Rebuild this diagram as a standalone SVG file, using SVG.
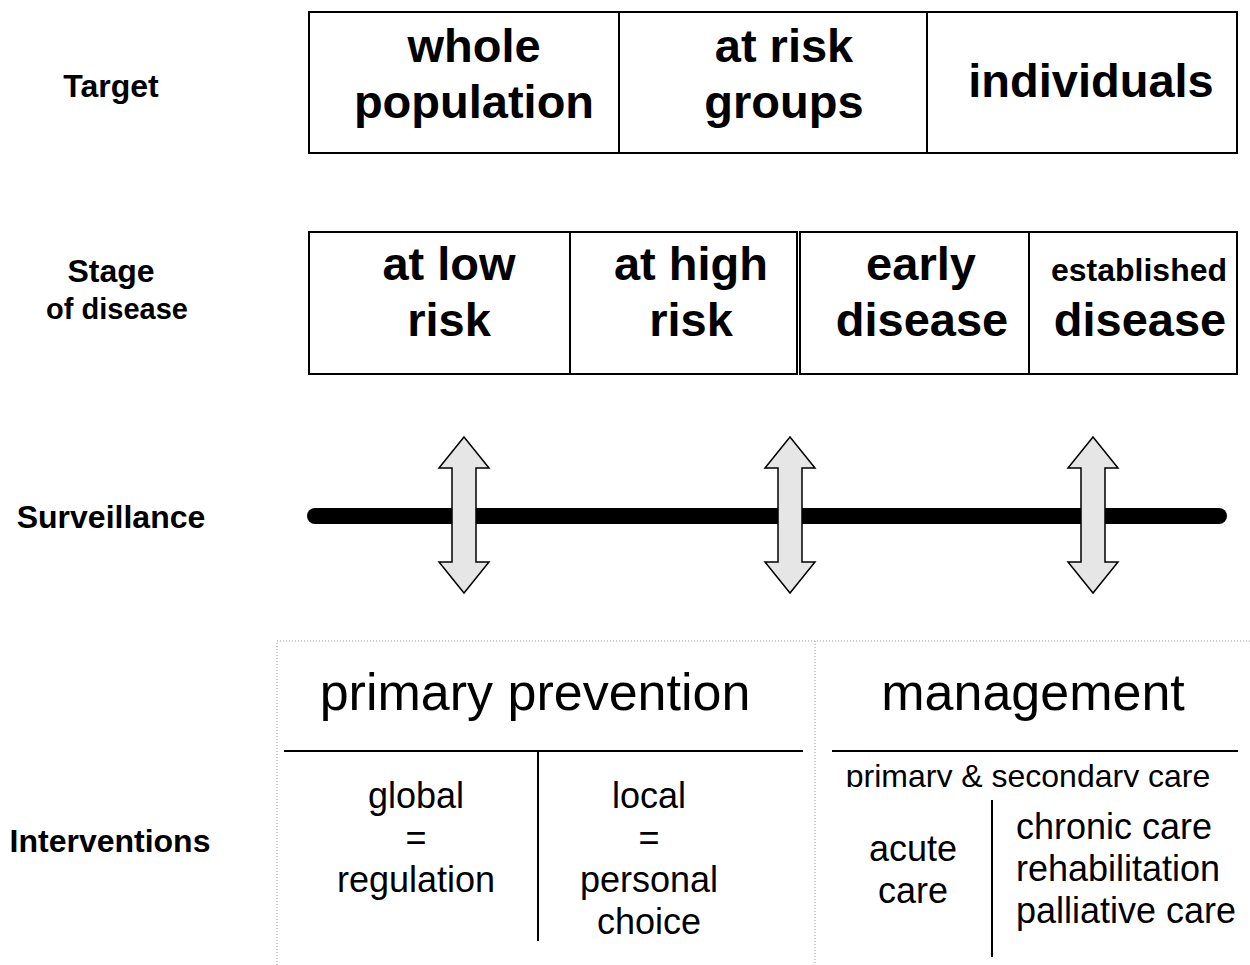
<svg xmlns="http://www.w3.org/2000/svg" width="1250" height="965" viewBox="0 0 1250 965">
<style>
.box{fill:#fff;stroke:#000;stroke-width:2}
.b{font-family:"Liberation Sans",Arial,sans-serif;font-weight:bold;text-anchor:middle;fill:#000}
.r{font-family:"Liberation Sans",Arial,sans-serif;text-anchor:middle;fill:#000}
.big{font-size:47px}
.lab{font-size:32px}
.dot{stroke:#999;stroke-width:1;stroke-dasharray:1,2;fill:none}
.ln{stroke:#000;stroke-width:2;fill:none}
.arr{fill:#e6e6e6;stroke:#000;stroke-width:1.5}
.st{text-anchor:start}
</style>
<defs>
<clipPath id="clipCare"><rect x="820" y="750" width="430" height="37"/></clipPath>
</defs>
<rect width="1250" height="965" fill="#fff"/>
<g id="row-labels">
<text class="b lab" x="111" y="97">Target</text>
<text class="b lab" x="111" y="282">Stage</text>
<text class="b" x="117" y="319" font-size="29">of disease</text>
<text class="b lab" x="111" y="528">Surveillance</text>
<text class="b lab" x="110" y="852">Interventions</text>
</g>
<g id="target">
<g id="t-whole"><rect class="box" x="309" y="12" width="310" height="141"/><text class="b big" x="474" y="62">whole</text><text class="b big" x="474" y="118">population</text></g>
<g id="t-risk"><rect class="box" x="619" y="12" width="308" height="141"/><text class="b big" x="784" y="62">at risk</text><text class="b big" x="784" y="118">groups</text></g>
<g id="t-ind"><rect class="box" x="927" y="12" width="310" height="141"/><text class="b big" x="1091" y="97">individuals</text></g>
</g>
<g id="stage">
<g id="s-low"><rect class="box" x="309" y="232" width="261" height="142"/><text class="b big" x="449" y="280">at low</text><text class="b big" x="449" y="336">risk</text></g>
<g id="s-high"><rect class="box" x="570" y="232" width="227" height="142"/><text class="b big" x="691" y="280">at high</text><text class="b big" x="691" y="336">risk</text></g>
<g id="s-early"><rect class="box" x="800" y="232" width="229" height="142"/><text class="b big" x="921" y="280">early</text><text class="b big" x="922" y="336">disease</text></g>
<g id="s-est"><rect class="box" x="1029" y="232" width="208" height="142"/><text class="b" x="1139" y="281" font-size="32">established</text><text class="b big" x="1140" y="336">disease</text></g>
</g>
<g id="connectors">
<line x1="315" y1="516" x2="1219" y2="516" stroke="#000" stroke-width="16" stroke-linecap="round"/>
<path class="arr" d="M464,437 L489,468 L476,468 L476,562 L489,562 L464,593 L439,562 L452,562 L452,468 L439,468 Z"/>
<path class="arr" d="M790,437 L815,468 L802,468 L802,562 L815,562 L790,593 L765,562 L778,562 L778,468 L765,468 Z"/>
<path class="arr" d="M1093,437 L1118,468 L1105,468 L1105,562 L1118,562 L1093,593 L1068,562 L1081,562 L1081,468 L1068,468 Z"/>
</g>
<g id="interventions">
<path class="dot" d="M277,965 L277,641 L1250,641 M815,641 L815,965"/>
<g id="primary">
<text class="r" x="535" y="710" font-size="52">primary prevention</text>
<line class="ln" x1="284" y1="751" x2="803" y2="751"/>
<line class="ln" x1="538" y1="751" x2="538" y2="941"/>
<text class="r" x="416" y="808" font-size="36">global</text>
<text class="r" x="416" y="850" font-size="36">=</text>
<text class="r" x="416" y="892" font-size="36">regulation</text>
<text class="r" x="649" y="808" font-size="36">local</text>
<text class="r" x="649" y="850" font-size="36">=</text>
<text class="r" x="649" y="892" font-size="36">personal</text>
<text class="r" x="649" y="934" font-size="36">choice</text>
</g>
<g id="management">
<text class="r" x="1033" y="710" font-size="52">management</text>
<line class="ln" x1="832" y1="751" x2="1238" y2="751"/>
<text class="r" x="1028" y="787" font-size="32" clip-path="url(#clipCare)">primary &amp; secondary care</text>
<line class="ln" x1="992" y1="800" x2="992" y2="957"/>
<text class="r" x="913" y="861" font-size="36">acute</text>
<text class="r" x="913" y="903" font-size="36">care</text>
<text class="r st" x="1016" y="839" font-size="36">chronic care</text>
<text class="r st" x="1016" y="881" font-size="36">rehabilitation</text>
<text class="r st" x="1016" y="923" font-size="36">palliative care</text>
</g>
</g>
</svg>
